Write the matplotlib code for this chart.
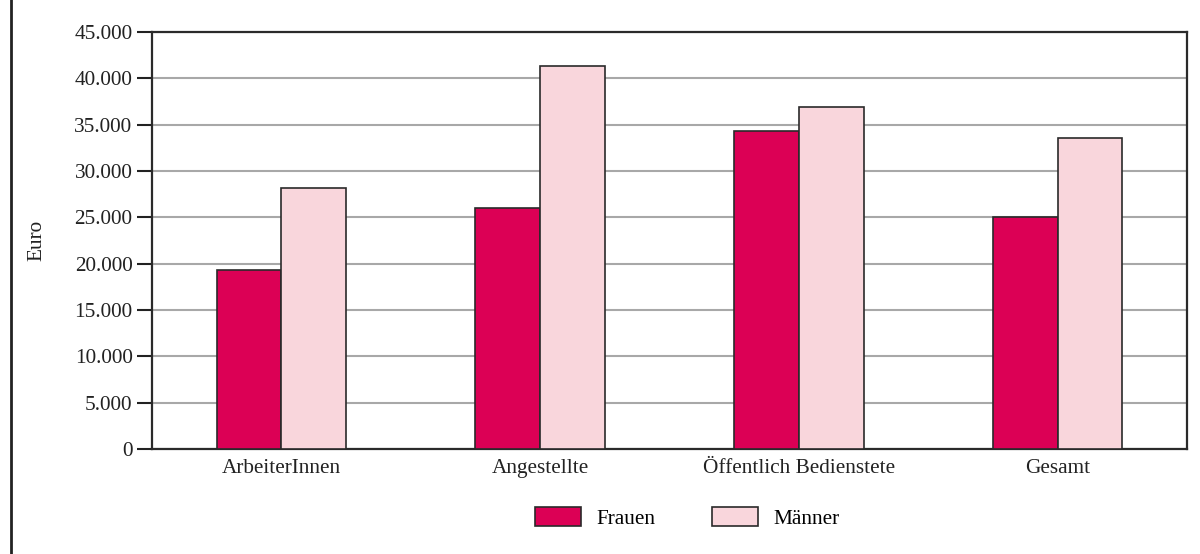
import matplotlib
matplotlib.use("Agg")
import matplotlib.pyplot as plt
from matplotlib.lines import Line2D
from matplotlib.ticker import FuncFormatter
import numpy as np

categories = ["ArbeiterInnen", "Angestellte", "Öffentlich Bedienstete", "Gesamt"]
frauen = [19300, 26000, 34300, 25000]
maenner = [28200, 41300, 36900, 33600]
series_names = ["Frauen", "Männer"]
y_ticks = [0, 5000, 10000, 15000, 20000, 25000, 30000, 35000, 40000, 45000]

plt.rcParams['font.family'] = ['Liberation Serif', 'DejaVu Serif']
FS = 15.3

fig = plt.figure(figsize=(12, 5.54), dpi=100)
ax = fig.add_axes([152/1200, 1-449/554, (1187-152)/1200, (449-32)/554])

x = np.arange(len(categories)) + 0.5
w = 0.25
edge = '#2a2a2a'
ax.bar(x - w/2, frauen, width=w, color='#DC0055', edgecolor=edge, linewidth=1.2,
       label=series_names[0], zorder=3)
ax.bar(x + w/2, maenner, width=w, color='#F9D6DC', edgecolor=edge, linewidth=1.2,
       label=series_names[1], zorder=3)

ax.set_xlim(0, len(categories))
ax.set_ylim(0, 45000)
ax.set_yticks(y_ticks)
ax.yaxis.set_major_formatter(FuncFormatter(lambda v, p: f"{int(v):,}".replace(",", ".")))
ax.set_xticks(x)
ax.set_xticklabels(categories)
ax.tick_params(axis='x', length=0, pad=7, labelsize=FS, colors='#222222')
ax.tick_params(axis='y', length=11, width=1.5, pad=3, labelsize=FS, direction='out',
               colors='#222222')
ax.yaxis.grid(True, color='#a8a8a8', linewidth=1.5, zorder=0)
ax.set_axisbelow(True)
for s in ax.spines.values():
    s.set_color('#2a2a2a')
    s.set_linewidth(1.6)
ax.set_ylabel("Euro", fontsize=FS, color='#222222', labelpad=20)

fig.legend(loc='center', bbox_to_anchor=(687/1200, 1-518/554), ncol=2, frameon=False,
           fontsize=FS, handlelength=2.2, handleheight=0.95, handletextpad=0.7,
           columnspacing=2.65)

fig.add_artist(Line2D([11/1200, 11/1200], [0, 1], transform=fig.transFigure,
                      color='#222222', linewidth=2))

fig.savefig("out.png", dpi=100)
